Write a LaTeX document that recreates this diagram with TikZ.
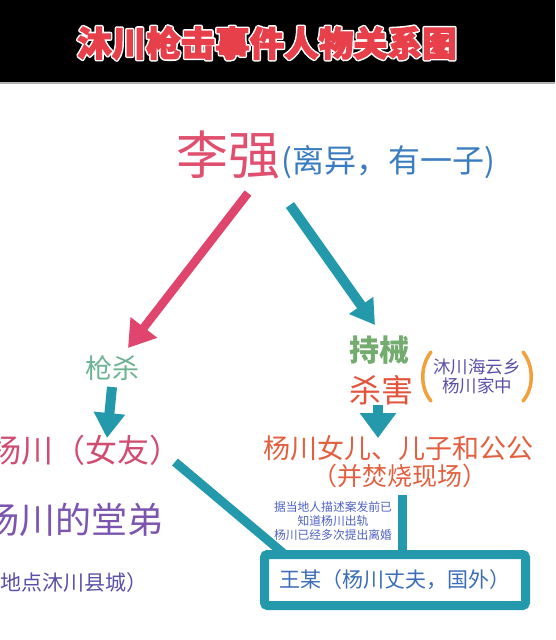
\documentclass[tikz,border=0pt]{standalone}
\usepackage{fontspec}
\setmainfont{Noto Sans CJK SC}
\newfontfamily\cjk{Noto Sans CJK SC}
\usetikzlibrary{arrows.meta}
\definecolor{titlered}{HTML}{E8404A}
\definecolor{lqred}{HTML}{E0506E}
\definecolor{noteblue}{HTML}{3A7CC0}
\definecolor{pinkarrow}{HTML}{E0456E}
\definecolor{teal}{HTML}{2499AC}
\definecolor{qsgreen}{HTML}{6CB394}
\definecolor{ycred}{HTML}{D04C70}
\definecolor{tdpurple}{HTML}{7B55B0}
\definecolor{placeblue}{HTML}{5A50A8}
\definecolor{cxgreen}{HTML}{74AC70}
\definecolor{shred}{HTML}{E2553C}
\definecolor{parorange}{HTML}{F2A03C}
\definecolor{famred}{HTML}{E2603F}
\definecolor{smallblue}{HTML}{4F62C4}
\definecolor{wangblue}{HTML}{3B6DB8}
\newcommand{\outlinedtext}[1]{\rlap{\special{pdf:code q 1 Tr 4.2 w 1 J 1 j 1 1 1 RG}#1\special{pdf:code Q}}\special{pdf:code q 2 Tr 1.1 w 0.91 0.25 0.29 RG}#1\special{pdf:code Q}}
\tikzset{
  txt/.style={inner sep=0pt, font=\cjk},
  tealline/.style={draw=teal, line width=9pt},
  fs/.style={font=\cjk\fontsize{#1}{#1}\selectfont}
}
\begin{document}
\begin{tikzpicture}[x=1pt,y=-1pt]
\useasboundingbox (0,0) rectangle (555,640);
\clip (0,0) rectangle (555,640);
\fill[white] (0,0) rectangle (555,640);
% header
\fill[black] (0,0) rectangle (555,82);
\draw[gray!60, line width=1.5pt] (0,83) -- (555,83);
\node[txt, titlered, font=\cjk\bfseries\fontsize{34.5}{34.5}\selectfont] (title) at (267,43) {\outlinedtext{沐川枪击事件人物关系图}};

% Li Qiang
\node[txt, lqred, fs=52] (lq) at (228,155) {李强};
\node[txt, noteblue, fs=32, anchor=west] (lqnote) at (281,162) {(离异，有一子)};

% left branch
\node[txt, qsgreen, fs=27] (qs) at (112,368) {枪杀};
\node[txt, ycred, fs=32, anchor=west] (yc) at (-11,450) {杨川（女友）};
\node[txt, tdpurple, fs=36, anchor=west] (td) at (-17,520) {杨川的堂弟};
\node[txt, placeblue, fs=21, anchor=west] (place) at (-21,583) {（地点沐川县城）};

% right branch
\node[txt, cxgreen, font=\cjk\bfseries\fontsize{30}{30}\selectfont] (cx) at (379,350) {持械};
\node[txt, shred, fs=32] (sh) at (381,390) {杀害};
\node[txt, placeblue, fs=17.5] (loc1) at (477,367) {沐川海云乡};
\node[txt, placeblue, fs=17.5] (loc2) at (477,386) {杨川家中};
\draw[parorange, line width=3.5pt, line cap=round] (431,352) .. controls (420,366) and (420,388) .. (431,401);
\draw[parorange, line width=3.5pt, line cap=round] (523,352) .. controls (534,366) and (534,388) .. (523,401);
\node[txt, famred, fs=27] (fam) at (398,448) {杨川女儿、儿子和公公};
\node[txt, famred, fs=25] (burn) at (400,476) {（并焚烧现场）};

\node[txt, smallblue, align=center, font=\cjk\fontsize{11.8}{14}\selectfont] (rumor) at (333,521) {据当地人描述案发前已\\知道杨川出轨\\杨川已经多次提出离婚};

% husband box
\node[txt, wangblue, fs=21, draw=teal, line width=9pt, rounded corners=3pt,
      minimum width=261pt, minimum height=51pt] (wang) at (395,580) {王某（杨川丈夫，国外）};

% connector points
\coordinate (lqL) at (248,193);
\coordinate (qsT) at (128,348);
\coordinate (lqR) at (290,205);
\coordinate (cxT) at (375,325);
\coordinate (qsB) at (112,387);
\coordinate (ycT) at (107,438);
\coordinate (shB) at (378,405);
\coordinate (famT) at (378,438);
\coordinate (ycE) at (175,462);
\coordinate (wangNW) at (283,553);
\coordinate (burnB) at (402,495);
\coordinate (wangN) at (402,553);

\draw[pinkarrow, line width=8.5pt, -{Triangle[width=32pt,length=26pt]}] (lqL) -- (qsT);
\draw[teal, line width=10pt, -{Triangle[width=28pt,length=24pt]}] (lqR) -- (cxT);
\draw[teal, line width=10pt, -{Triangle[width=30pt,length=25pt]}] (qsB) -- (ycT);
\draw[teal, line width=10pt, -{Triangle[width=35pt,length=25pt]}] (shB) -- (famT);
\draw[tealline] (ycE) -- (wangNW);
\draw[tealline] (burnB) -- (wangN);
\end{tikzpicture}
\end{document}
